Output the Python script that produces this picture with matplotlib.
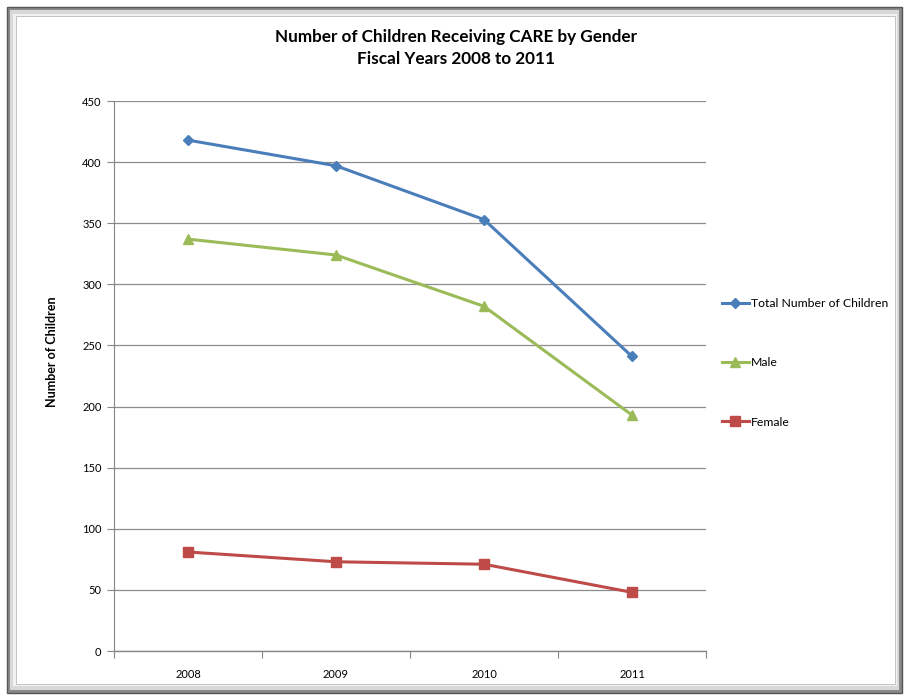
import matplotlib.pyplot as plt
from matplotlib.patches import Rectangle

years = ['2008', '2009', '2010', '2011']
total = [418, 397, 353, 241]
male = [337, 324, 282, 193]
female = [81, 73, 71, 48]

plt.rcParams['font.family'] = ['Lato', 'DejaVu Sans']

W, H = 905, 698
fig = plt.figure(figsize=(W / 100, H / 100), dpi=100)

# beveled frame around the chart, kept behind the axes
def frect(x0, y0, x1, y1, **kw):
    fig.patches.append(Rectangle((x0 / W, 1 - y1 / H), (x1 - x0) / W, (y1 - y0) / H,
                                 transform=fig.transFigure, zorder=-5, **kw))

frect(7, 7, 902, 693, facecolor='#8a8a8a', edgecolor='#555555', lw=1.0)
frect(10, 10, 899, 690, facecolor='#d8d8d8', edgecolor='none')
frect(13, 14, 897, 686, facecolor='#f2f2f2', edgecolor='none')
frect(16, 16, 895, 684, facecolor='white', edgecolor='#bbbbbb', lw=0.6)

ax = fig.add_axes([114 / W, 1 - 651 / H, (706 - 114) / W, (651 - 101) / H])
ax.set_facecolor('none')

x = list(range(len(years)))
ax.plot(x, total, color='#4A7EBB', lw=2.2, marker='D', ms=5, label='Total Number of Children')
ax.plot(x, male, color='#9BBB59', lw=2.2, marker='^', ms=7, label='Male')
ax.plot(x, female, color='#BE4B48', lw=2.2, marker='s', ms=6.5, label='Female')

ax.set_ylim(0, 450)
ax.set_yticks(range(0, 451, 50))
ax.set_xlim(-0.5, 3.5)
ax.set_xticks([i - 0.5 for i in range(5)])
ax.set_xticklabels([])
ax.set_xticks(x, minor=True)
ax.set_xticklabels(years, minor=True)
ax.tick_params(axis='x', which='minor', length=0, pad=13, labelsize=8)
ax.tick_params(axis='x', which='major', length=5, color='#868686', direction='out')
ax.tick_params(axis='y', length=5, color='#868686', labelsize=8, pad=4)
ax.grid(axis='y', color='#8c8c8c', lw=0.9)
ax.set_axisbelow(True)
for s in ['top', 'right']:
    ax.spines[s].set_visible(False)
for s in ['left', 'bottom']:
    ax.spines[s].set_color('#868686')
ax.spines['bottom'].set_linewidth(1.0)

fig.text(52 / W, 1 - 352 / H, 'Number of Children', rotation=90, ha='center', va='center',
         fontsize=9, fontweight='bold')

fig.text(456 / W, 1 - 48 / H, 'Number of Children Receiving CARE by Gender\nFiscal Years 2008 to 2011',
         ha='center', va='center', fontsize=12.3, fontweight='bold', linespacing=1.4)

leg = ax.legend(loc='upper left', bbox_to_anchor=(711 / W, 1 - 287 / H), bbox_transform=fig.transFigure,
                frameon=False, fontsize=8.8, labelspacing=3.95, handlelength=2.2, handletextpad=0.15)

fig.savefig('out.png', dpi=100)
